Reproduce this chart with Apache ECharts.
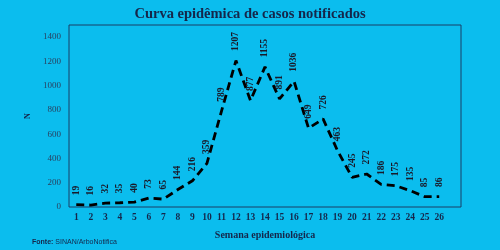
<!DOCTYPE html>
<html>
<head>
<meta charset="utf-8">
<script src="https://cdn.jsdelivr.net/npm/echarts@6/dist/echarts.min.js"></script>
<style>
  html, body { margin: 0; padding: 0; background: #0bbdee; }
  #chart { width: 500px; height: 250px; }
</style>
</head>
<body>
<div id="chart"></div>
<script>
  // semanas epidemiológicas (a última fica vazia para dar folga à direita)
  const semanas = ['1','2','3','4','5','6','7','8','9','10','11','12','13','14','15','16','17','18','19','20','21','22','23','24','25','26','']
  // casos notificados por semana
  const casos = [19, 16, 32, 35, 40, 73, 65, 144, 216, 359, 789, 1207, 877, 1155, 891, 1036, 649, 726, 463, 245, 272, 186, 175, 135, 85, 86]

  const serif = '"Liberation Serif", "DejaVu Serif", serif'
  const navy = '#15264a'

  const chart = echarts.init(document.getElementById('chart'))
  chart.setOption({
    backgroundColor: '#0bbdee',
    title: {
      text: 'Curva epidêmica de casos notificados',
      left: 'center',
      top: 2,
      textStyle: { fontFamily: serif, fontWeight: 'bold', fontSize: 14.5, color: navy }
    },
    graphic: [{
      type: 'text',
      left: 32,
      top: 239,
      style: {
        text: '{b|Fonte:} SINAN/ArboNotifica',
        rich: { b: { fontWeight: 'bold', fontSize: 7, fill: navy, fontFamily: 'Liberation Sans' } },
        fontSize: 7,
        fontFamily: 'Liberation Sans',
        fill: navy
      }
    }],
    grid: {
      left: 69, right: 39, top: 25, bottom: 43,
      show: true, borderColor: '#1b3f66', borderWidth: 1
    },
    xAxis: {
      type: 'category',
      data: semanas,
      boundaryGap: true,
      axisLine: { show: false },
      axisTick: { show: false },
      axisLabel: { interval: 0, margin: 6, fontFamily: serif, fontWeight: 'bold', fontSize: 9.5, color: navy },
      name: 'Semana epidemiológica',
      nameLocation: 'middle',
      nameGap: 23,
      nameTextStyle: { fontFamily: serif, fontWeight: 'bold', fontSize: 10, color: navy }
    },
    yAxis: {
      type: 'value',
      min: 0, max: 1500, interval: 200,
      splitLine: { show: false },
      axisLine: { show: false },
      axisTick: { show: false },
      axisLabel: { showMaxLabel: false, margin: 8, formatter: v => String(v), fontFamily: serif, fontSize: 9, color: '#2a3f5e' },
      name: 'N',
      nameLocation: 'middle',
      nameGap: 32,
      nameTextStyle: { fontFamily: serif, fontWeight: 'bold', fontSize: 8, color: navy }
    },
    series: [{
      type: 'line',
      data: casos,
      smooth: false,
      showSymbol: true,
      showAllSymbol: true,
      symbol: 'circle',
      symbolSize: 1,
      itemStyle: { color: 'rgba(0,0,0,0)', borderWidth: 0 },
      lineStyle: { color: '#000', width: 2.8, type: [8, 5] },
      labelLayout: { hideOverlap: false },
      label: {
        show: true,
        position: 'top',
        distance: 9,
        rotate: 90,
        align: 'left',
        verticalAlign: 'middle',
        fontFamily: serif,
        fontWeight: 'bold',
        fontSize: 9.5,
        color: '#1a1a2a'
      }
    }]
  })
</script>
</body>
</html>
